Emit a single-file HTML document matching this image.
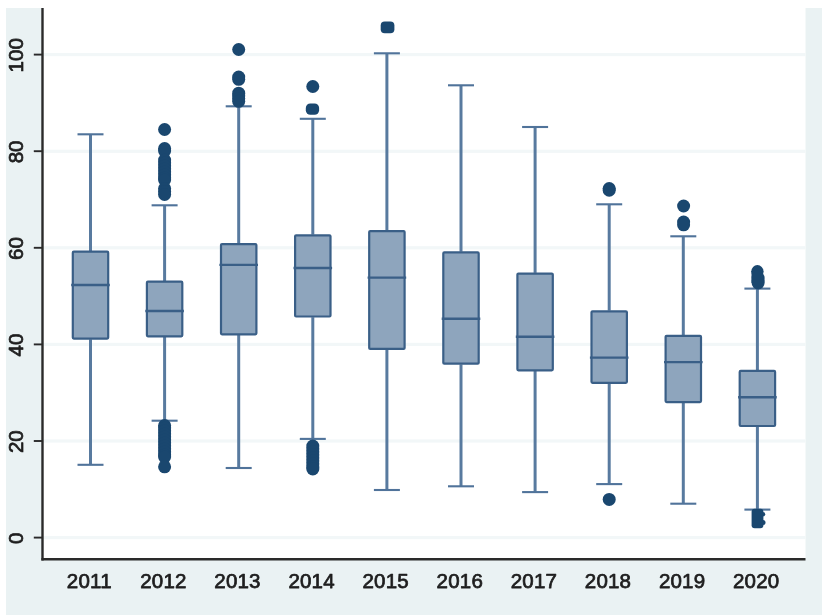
<!DOCTYPE html>
<html><head><meta charset="utf-8"><title>Box plot</title>
<style>
html,body{margin:0;padding:0;background:#fff;}
body{width:822px;height:615px;overflow:hidden;}
svg{display:block;}
text{font-family:"Liberation Sans",Arial,sans-serif;font-size:20.5px;fill:#1e1e1e;stroke:#1e1e1e;stroke-width:0.75px;stroke-linejoin:round;}
</style></head><body>
<svg width="822" height="615" viewBox="0 0 822 615">
<g>
<rect x="0" y="0" width="822" height="615" fill="#fff"/>
<rect x="6" y="8" width="816" height="607" fill="#eaf2f3"/>
<rect x="42" y="8" width="763.5" height="551" fill="#fff"/>

<rect x="43" y="536.0" width="762.5" height="3.2" fill="#f2f7f8"/>
<rect x="43" y="439.4" width="762.5" height="3.2" fill="#f2f7f8"/>
<rect x="43" y="342.8" width="762.5" height="3.2" fill="#f2f7f8"/>
<rect x="43" y="246.2" width="762.5" height="3.2" fill="#f2f7f8"/>
<rect x="43" y="149.7" width="762.5" height="3.2" fill="#f2f7f8"/>
<rect x="43" y="53.0" width="762.5" height="3.2" fill="#f2f7f8"/>
<g stroke="#50739a" stroke-width="2.4" fill="none">
<line x1="90.5" y1="134.0" x2="90.5" y2="251.0" stroke="#587a9f" stroke-width="3"/>
<line x1="90.5" y1="339.3" x2="90.5" y2="464.5" stroke="#587a9f" stroke-width="3"/>
<line x1="77.5" y1="134.3" x2="103.5" y2="134.3" stroke-width="2.1"/>
<line x1="77.5" y1="464.8" x2="103.5" y2="464.8" stroke-width="2.1"/>
</g>
<rect x="72.8" y="251.7" width="35.4" height="86.9" rx="1" fill="#8ea5bd" stroke="#3a5f87" stroke-width="2.2"/>
<line x1="71.2" y1="285.0" x2="109.8" y2="285.0" stroke="#3a5f87" stroke-width="2.4"/>
<g stroke="#50739a" stroke-width="2.4" fill="none">
<line x1="164.6" y1="205.0" x2="164.6" y2="281.0" stroke="#587a9f" stroke-width="3"/>
<line x1="164.6" y1="337.0" x2="164.6" y2="420.4" stroke="#587a9f" stroke-width="3"/>
<line x1="151.6" y1="205.3" x2="177.6" y2="205.3" stroke-width="2.1"/>
<line x1="151.6" y1="420.7" x2="177.6" y2="420.7" stroke-width="2.1"/>
</g>
<rect x="146.9" y="281.7" width="35.4" height="54.6" rx="1" fill="#8ea5bd" stroke="#3a5f87" stroke-width="2.2"/>
<line x1="145.3" y1="311.0" x2="183.9" y2="311.0" stroke="#3a5f87" stroke-width="2.4"/>
<g stroke="#50739a" stroke-width="2.4" fill="none">
<line x1="238.7" y1="106.0" x2="238.7" y2="243.4" stroke="#587a9f" stroke-width="3"/>
<line x1="238.7" y1="335.0" x2="238.7" y2="467.7" stroke="#587a9f" stroke-width="3"/>
<line x1="225.7" y1="106.3" x2="251.7" y2="106.3" stroke-width="2.1"/>
<line x1="225.7" y1="468.0" x2="251.7" y2="468.0" stroke-width="2.1"/>
</g>
<rect x="221.0" y="244.1" width="35.4" height="90.2" rx="1" fill="#8ea5bd" stroke="#3a5f87" stroke-width="2.2"/>
<line x1="219.4" y1="264.9" x2="258.0" y2="264.9" stroke="#3a5f87" stroke-width="2.4"/>
<g stroke="#50739a" stroke-width="2.4" fill="none">
<line x1="312.8" y1="118.5" x2="312.8" y2="234.6" stroke="#587a9f" stroke-width="3"/>
<line x1="312.8" y1="317.2" x2="312.8" y2="438.6" stroke="#587a9f" stroke-width="3"/>
<line x1="299.8" y1="118.8" x2="325.8" y2="118.8" stroke-width="2.1"/>
<line x1="299.8" y1="438.9" x2="325.8" y2="438.9" stroke-width="2.1"/>
</g>
<rect x="295.1" y="235.3" width="35.4" height="81.2" rx="1" fill="#8ea5bd" stroke="#3a5f87" stroke-width="2.2"/>
<line x1="293.5" y1="268.0" x2="332.1" y2="268.0" stroke="#3a5f87" stroke-width="2.4"/>
<g stroke="#50739a" stroke-width="2.4" fill="none">
<line x1="386.9" y1="53.0" x2="386.9" y2="230.4" stroke="#587a9f" stroke-width="3"/>
<line x1="386.9" y1="349.6" x2="386.9" y2="489.7" stroke="#587a9f" stroke-width="3"/>
<line x1="373.9" y1="53.3" x2="399.9" y2="53.3" stroke-width="2.1"/>
<line x1="373.9" y1="490.0" x2="399.9" y2="490.0" stroke-width="2.1"/>
</g>
<rect x="369.2" y="231.1" width="35.4" height="117.8" rx="1" fill="#8ea5bd" stroke="#3a5f87" stroke-width="2.2"/>
<line x1="367.6" y1="277.6" x2="406.2" y2="277.6" stroke="#3a5f87" stroke-width="2.4"/>
<g stroke="#50739a" stroke-width="2.4" fill="none">
<line x1="461.0" y1="85.0" x2="461.0" y2="251.7" stroke="#587a9f" stroke-width="3"/>
<line x1="461.0" y1="364.4" x2="461.0" y2="486.0" stroke="#587a9f" stroke-width="3"/>
<line x1="448.0" y1="85.3" x2="474.0" y2="85.3" stroke-width="2.1"/>
<line x1="448.0" y1="486.3" x2="474.0" y2="486.3" stroke-width="2.1"/>
</g>
<rect x="443.3" y="252.4" width="35.4" height="111.3" rx="1" fill="#8ea5bd" stroke="#3a5f87" stroke-width="2.2"/>
<line x1="441.7" y1="318.7" x2="480.3" y2="318.7" stroke="#3a5f87" stroke-width="2.4"/>
<g stroke="#50739a" stroke-width="2.4" fill="none">
<line x1="535.1" y1="126.7" x2="535.1" y2="272.9" stroke="#587a9f" stroke-width="3"/>
<line x1="535.1" y1="371.0" x2="535.1" y2="491.8" stroke="#587a9f" stroke-width="3"/>
<line x1="522.1" y1="127.0" x2="548.1" y2="127.0" stroke-width="2.1"/>
<line x1="522.1" y1="492.1" x2="548.1" y2="492.1" stroke-width="2.1"/>
</g>
<rect x="517.4" y="273.6" width="35.4" height="96.7" rx="1" fill="#8ea5bd" stroke="#3a5f87" stroke-width="2.2"/>
<line x1="515.8" y1="336.8" x2="554.4" y2="336.8" stroke="#3a5f87" stroke-width="2.4"/>
<g stroke="#50739a" stroke-width="2.4" fill="none">
<line x1="609.2" y1="204.0" x2="609.2" y2="310.6" stroke="#587a9f" stroke-width="3"/>
<line x1="609.2" y1="383.5" x2="609.2" y2="483.8" stroke="#587a9f" stroke-width="3"/>
<line x1="596.2" y1="204.3" x2="622.2" y2="204.3" stroke-width="2.1"/>
<line x1="596.2" y1="484.1" x2="622.2" y2="484.1" stroke-width="2.1"/>
</g>
<rect x="591.5" y="311.3" width="35.4" height="71.5" rx="1" fill="#8ea5bd" stroke="#3a5f87" stroke-width="2.2"/>
<line x1="589.9" y1="357.6" x2="628.5" y2="357.6" stroke="#3a5f87" stroke-width="2.4"/>
<g stroke="#50739a" stroke-width="2.4" fill="none">
<line x1="683.3" y1="236.0" x2="683.3" y2="335.1" stroke="#587a9f" stroke-width="3"/>
<line x1="683.3" y1="402.8" x2="683.3" y2="503.4" stroke="#587a9f" stroke-width="3"/>
<line x1="670.3" y1="236.3" x2="696.3" y2="236.3" stroke-width="2.1"/>
<line x1="670.3" y1="503.7" x2="696.3" y2="503.7" stroke-width="2.1"/>
</g>
<rect x="665.6" y="335.8" width="35.4" height="66.3" rx="1" fill="#8ea5bd" stroke="#3a5f87" stroke-width="2.2"/>
<line x1="664.0" y1="362.1" x2="702.6" y2="362.1" stroke="#3a5f87" stroke-width="2.4"/>
<g stroke="#50739a" stroke-width="2.4" fill="none">
<line x1="757.4" y1="288.3" x2="757.4" y2="370.2" stroke="#587a9f" stroke-width="3"/>
<line x1="757.4" y1="426.7" x2="757.4" y2="509.3" stroke="#587a9f" stroke-width="3"/>
<line x1="744.4" y1="288.6" x2="770.4" y2="288.6" stroke-width="2.1"/>
<line x1="744.4" y1="509.6" x2="770.4" y2="509.6" stroke-width="2.1"/>
</g>
<rect x="739.7" y="370.9" width="35.4" height="55.1" rx="1" fill="#8ea5bd" stroke="#3a5f87" stroke-width="2.2"/>
<line x1="738.1" y1="397.2" x2="776.7" y2="397.2" stroke="#3a5f87" stroke-width="2.4"/>
<circle cx="164.6" cy="129.5" r="6.5" fill="#1a476f"/>
<circle cx="164.6" cy="148.5" r="6.5" fill="#1a476f"/>
<circle cx="164.6" cy="151.0" r="6.5" fill="#1a476f"/>
<circle cx="164.6" cy="160.0" r="6.5" fill="#1a476f"/>
<circle cx="164.6" cy="163.0" r="6.5" fill="#1a476f"/>
<circle cx="164.6" cy="166.0" r="6.5" fill="#1a476f"/>
<circle cx="164.6" cy="169.0" r="6.5" fill="#1a476f"/>
<circle cx="164.6" cy="172.0" r="6.5" fill="#1a476f"/>
<circle cx="164.6" cy="175.0" r="6.5" fill="#1a476f"/>
<circle cx="164.6" cy="178.0" r="6.5" fill="#1a476f"/>
<circle cx="164.6" cy="180.0" r="6.5" fill="#1a476f"/>
<circle cx="164.6" cy="188.5" r="6.5" fill="#1a476f"/>
<circle cx="164.6" cy="191.5" r="6.5" fill="#1a476f"/>
<circle cx="164.6" cy="194.5" r="6.5" fill="#1a476f"/>
<circle cx="164.6" cy="425.5" r="6.5" fill="#1a476f"/>
<circle cx="164.6" cy="428.0" r="6.5" fill="#1a476f"/>
<circle cx="164.6" cy="431.0" r="6.5" fill="#1a476f"/>
<circle cx="164.6" cy="434.0" r="6.5" fill="#1a476f"/>
<circle cx="164.6" cy="437.0" r="6.5" fill="#1a476f"/>
<circle cx="164.6" cy="440.0" r="6.5" fill="#1a476f"/>
<circle cx="164.6" cy="443.0" r="6.5" fill="#1a476f"/>
<circle cx="164.6" cy="446.0" r="6.5" fill="#1a476f"/>
<circle cx="164.6" cy="449.0" r="6.5" fill="#1a476f"/>
<circle cx="164.6" cy="452.0" r="6.5" fill="#1a476f"/>
<circle cx="164.6" cy="455.0" r="6.5" fill="#1a476f"/>
<circle cx="164.6" cy="457.0" r="6.5" fill="#1a476f"/>
<circle cx="164.6" cy="466.8" r="6.5" fill="#1a476f"/>
<circle cx="238.7" cy="49.5" r="6.5" fill="#1a476f"/>
<circle cx="238.7" cy="77.0" r="6.5" fill="#1a476f"/>
<circle cx="238.7" cy="79.3" r="6.5" fill="#1a476f"/>
<circle cx="238.7" cy="93.2" r="6.5" fill="#1a476f"/>
<circle cx="238.7" cy="96.0" r="6.5" fill="#1a476f"/>
<circle cx="238.7" cy="98.5" r="6.5" fill="#1a476f"/>
<circle cx="238.7" cy="101.3" r="6.5" fill="#1a476f"/>
<circle cx="312.8" cy="86.5" r="6.5" fill="#1a476f"/>
<circle cx="312.8" cy="446.0" r="6.5" fill="#1a476f"/>
<circle cx="312.8" cy="449.0" r="6.5" fill="#1a476f"/>
<circle cx="312.8" cy="452.0" r="6.5" fill="#1a476f"/>
<circle cx="312.8" cy="455.0" r="6.5" fill="#1a476f"/>
<circle cx="312.8" cy="458.0" r="6.5" fill="#1a476f"/>
<circle cx="312.8" cy="461.0" r="6.5" fill="#1a476f"/>
<circle cx="312.8" cy="464.0" r="6.5" fill="#1a476f"/>
<circle cx="312.8" cy="467.0" r="6.5" fill="#1a476f"/>
<circle cx="312.8" cy="469.0" r="6.5" fill="#1a476f"/>
<circle cx="609.2" cy="188.6" r="6.5" fill="#1a476f"/>
<circle cx="609.2" cy="190.2" r="6.5" fill="#1a476f"/>
<circle cx="609.2" cy="499.4" r="6.5" fill="#1a476f"/>
<circle cx="683.6" cy="206.0" r="6.5" fill="#1a476f"/>
<circle cx="683.6" cy="222.0" r="6.5" fill="#1a476f"/>
<circle cx="683.6" cy="224.8" r="6.5" fill="#1a476f"/>
<circle cx="758.1" cy="278.0" r="6.5" fill="#1a476f"/>
<circle cx="758.1" cy="280.5" r="6.5" fill="#1a476f"/>
<circle cx="758.1" cy="283.0" r="6.5" fill="#1a476f"/>
<rect x="305.8" y="103.4" width="13.3" height="11.4" rx="4.5" fill="#1a476f"/>
<rect x="380.7" y="21.5" width="13.7" height="11.7" rx="4" fill="#1a476f"/>
<rect x="751.6" y="508.8" width="11.8" height="19.4" rx="3" fill="#1a476f"/>
<circle cx="762.9" cy="514.2" r="2.3" fill="#1a476f"/><circle cx="763" cy="522.5" r="2.5" fill="#1a476f"/>
<circle cx="757.4" cy="271.2" r="6.1" fill="#1a476f"/><rect x="751.5" y="271" width="11.7" height="12" fill="#1a476f"/>
<g stroke="#2a2a2a" stroke-width="2.4" fill="none">
<line x1="42.5" y1="8" x2="42.5" y2="560.4"/>
<line x1="41.4" y1="559.3" x2="805.5" y2="559.3"/>
<line x1="33.8" y1="537.6" x2="42" y2="537.6" stroke-width="1.9"/>
<line x1="33.8" y1="441.0" x2="42" y2="441.0" stroke-width="1.9"/>
<line x1="33.8" y1="344.4" x2="42" y2="344.4" stroke-width="1.9"/>
<line x1="33.8" y1="247.8" x2="42" y2="247.8" stroke-width="1.9"/>
<line x1="33.8" y1="151.2" x2="42" y2="151.2" stroke-width="1.9"/>
<line x1="33.8" y1="54.6" x2="42" y2="54.6" stroke-width="1.9"/>
</g>
<text transform="translate(23.0,538.4) rotate(-90)" text-anchor="middle">0</text>
<text transform="translate(23.0,441.7) rotate(-90)" text-anchor="middle">20</text>
<text transform="translate(23.0,345.1) rotate(-90)" text-anchor="middle">40</text>
<text transform="translate(23.0,248.5) rotate(-90)" text-anchor="middle">60</text>
<text transform="translate(23.0,151.9) rotate(-90)" text-anchor="middle">80</text>
<text transform="translate(23.0,55.3) rotate(-90)" text-anchor="middle">100</text>
<text x="89.3" y="587.9" text-anchor="middle" letter-spacing="0.2">2011</text>
<text x="163.4" y="587.9" text-anchor="middle" letter-spacing="0.2">2012</text>
<text x="237.5" y="587.9" text-anchor="middle" letter-spacing="0.2">2013</text>
<text x="311.6" y="587.9" text-anchor="middle" letter-spacing="0.2">2014</text>
<text x="385.7" y="587.9" text-anchor="middle" letter-spacing="0.2">2015</text>
<text x="459.8" y="587.9" text-anchor="middle" letter-spacing="0.2">2016</text>
<text x="533.9" y="587.9" text-anchor="middle" letter-spacing="0.2">2017</text>
<text x="608.0" y="587.9" text-anchor="middle" letter-spacing="0.2">2018</text>
<text x="682.1" y="587.9" text-anchor="middle" letter-spacing="0.2">2019</text>
<text x="756.2" y="587.9" text-anchor="middle" letter-spacing="0.2">2020</text>
</g></svg></body></html>
